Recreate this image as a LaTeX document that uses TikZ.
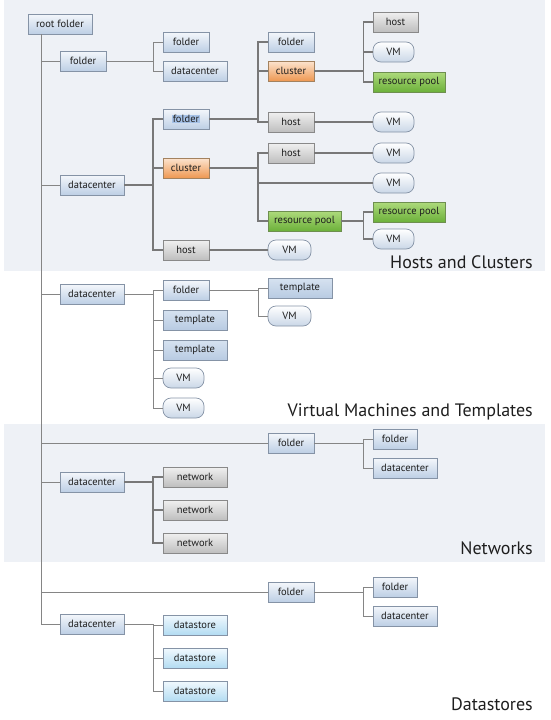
\documentclass[tikz,border=0pt]{standalone}
\usepackage{fontspec}
\setmainfont{PT Sans}
\definecolor{panel}{HTML}{EEF1F6}
\definecolor{lineg}{HTML}{858585}
\definecolor{bluetop}{HTML}{F4F7FB}
\definecolor{bluebot}{HTML}{BDCFE5}
\definecolor{blueedge}{HTML}{8593A6}
\definecolor{tpltop}{HTML}{D6E2F0}
\definecolor{tplbot}{HTML}{B8CBE2}
\definecolor{dstop}{HTML}{F1F9FE}
\definecolor{dsbot}{HTML}{B3DCF2}
\definecolor{greytop}{HTML}{F0F0F0}
\definecolor{greybot}{HTML}{BEBEBE}
\definecolor{greyedge}{HTML}{898989}
\definecolor{ortop}{HTML}{FCE4CF}
\definecolor{orbot}{HTML}{EE9852}
\definecolor{oredge}{HTML}{A3825F}
\definecolor{grtop}{HTML}{AEDA7C}
\definecolor{grbot}{HTML}{6CB13A}
\definecolor{gredge}{HTML}{6E8F4F}
\definecolor{vmbot}{HTML}{CAD7E7}
\definecolor{selblue}{HTML}{A6C2E7}
\definecolor{txt}{HTML}{1E1E1E}
\tikzset{
  base/.style={draw, line width=0.7pt, minimum height=20pt, inner sep=0pt,
    font=\fontsize{10.5}{12}\selectfont, text=txt},
  wd/.style={minimum width=#1},
  blu/.style={base, top color=bluetop, bottom color=bluebot, draw=blueedge},
  tpl/.style={base, top color=tpltop, bottom color=tplbot, draw=blueedge},
  dst/.style={base, top color=dstop, bottom color=dsbot, draw=blueedge},
  gry/.style={base, top color=greytop, bottom color=greybot, draw=greyedge},
  org/.style={base, top color=ortop, bottom color=orbot, draw=oredge},
  grn/.style={base, top color=grtop, bottom color=grbot, draw=gredge},
  vmn/.style={base, rounded corners=8pt, top color=white, bottom color=vmbot, draw=blueedge},
  ln/.style={draw=lineg, line width=0.8pt},
  heavy/.style={draw=lineg!90!black, line width=1.7pt},
  sect/.style={anchor=base east, font=\fontsize{18}{20}\selectfont, text=txt, inner sep=0pt}
}
\begin{document}
\begin{tikzpicture}[x=1pt,y=-1pt]
\useasboundingbox (0,0) rectangle (551,720);
\fill[panel] (4,0) rectangle (545,271);
\fill[panel] (4,424) rectangle (545,562);

\coordinate (tx) at (41.7,0);
\coordinate (b1) at (153,0);
\coordinate (b2) at (258,0);
\coordinate (b3) at (363.5,0);

% ---- nodes: hosts and clusters ----
\node[blu, wd=64pt] (root) at (60,24) {root folder};
\node[blu, wd=46pt] (f1) at (83,61) {folder};
\node[blu, wd=46pt] (f1a) at (186,42) {folder};
\node[blu, wd=64pt] (f1b) at (195,71) {datacenter};
\node[blu, wd=64pt] (dc1) at (92,185) {datacenter};
\node[blu, wd=46pt] (dcf) at (186,119) {\setlength{\fboxsep}{0.6pt}\colorbox{selblue}{folder}};
\node[org, wd=46pt] (dcc) at (186,168) {cluster};
\node[gry, wd=46pt] (dch) at (186,250) {host};
\node[blu, wd=46pt] (ff) at (291,42) {folder};
\node[org, wd=46pt] (fc) at (291,71) {cluster};
\node[gry, wd=46pt] (fh) at (291,122) {host};
\node[gry, wd=45pt] (fch) at (395.5,22) {host};
\node[vmn, wd=41pt] (fcv) at (393.5,52) {VM};
\node[grn, wd=72pt] (fcr) at (409,82) {resource pool};
\node[vmn, wd=41pt] (fhv) at (393.5,122) {VM};
\node[gry, wd=46pt] (ch) at (291,153) {host};
\node[vmn, wd=41pt] (chv) at (393.5,153) {VM};
\node[vmn, wd=41pt] (cv) at (393.5,183) {VM};
\node[grn, wd=73pt] (cr) at (304.5,221) {resource pool};
\node[grn, wd=72pt] (crr) at (409,212) {resource pool};
\node[vmn, wd=41pt] (crv) at (393.5,239) {VM};
\node[vmn, wd=43pt] (hv) at (289.5,250) {VM};
\node[sect] (lab1) at (533,268) {Hosts and Clusters};

% ---- VMs and templates ----
\node[blu, wd=64pt] (dc2) at (92,294) {datacenter};
\node[blu, wd=46pt] (vf) at (186,290) {folder};
\node[tpl, wd=64pt] (vt1) at (195,320) {template};
\node[tpl, wd=64pt] (vt2) at (195,350) {template};
\node[vmn, wd=41pt] (vv1) at (183.5,378) {VM};
\node[vmn, wd=41pt] (vv2) at (183.5,408) {VM};
\node[tpl, wd=64pt] (vft) at (300,288) {template};
\node[vmn, wd=43pt] (vfv) at (289.5,316) {VM};
\node[sect] (lab2) at (533,416) {Virtual Machines and Templates};

% ---- networks ----
\node[blu, wd=46pt] (nf) at (291,443) {folder};
\node[blu, wd=44pt] (nff) at (395,439) {folder};
\node[blu, wd=64pt] (nfd) at (405,468) {datacenter};
\node[blu, wd=64pt] (dc3) at (92,482) {datacenter};
\node[gry, wd=64pt] (n1) at (195,477) {network};
\node[gry, wd=64pt] (n2) at (195,510) {network};
\node[gry, wd=64pt] (n3) at (195,543) {network};
\node[sect] (lab3) at (533,554) {Networks};

% ---- datastores ----
\node[blu, wd=46pt] (sf) at (291,592) {folder};
\node[blu, wd=44pt] (sff) at (395,587) {folder};
\node[blu, wd=64pt] (sfd) at (405,616) {datacenter};
\node[blu, wd=64pt] (dc4) at (92,624) {datacenter};
\node[dst, wd=64pt] (d1) at (195,625) {datastore};
\node[dst, wd=64pt] (d2) at (195,658) {datastore};
\node[dst, wd=64pt] (d3) at (195,691) {datastore};
\node[sect] (lab4) at (533,710) {Datastores};

% ---- connectors ----
\draw[ln] (root.south -| tx) |- (dc4.west);
\foreach \c in {f1,dc1,dc2,nf,dc3,sf} \draw[ln] (tx |- \c.west) -- (\c.west);
% folder subtree
\foreach \c in {f1a,f1b} \draw[ln] (f1.east) -- (f1.east -| b1) |- (\c.west);
% datacenter subtree (heavy)
\foreach \c in {dcf,dcc,dch} \draw[heavy] (dc1.east) -- (dc1.east -| b1) |- (\c.west);
\foreach \c in {ff,fc,fh} \draw[heavy] (dcf.east) -- (dcf.east -| b2) |- (\c.west);
\foreach \c in {fch,fcv,fcr} \draw[heavy] (fc.east) -- (fc.east -| b3) |- (\c.west);
\draw[heavy] (fh.east) -- (fhv.west);
\foreach \c in {ch,cv,cr} \draw[heavy] (dcc.east) -- (dcc.east -| b2) |- (\c.west);
\draw[heavy] (ch.east) -- (chv.west);
\foreach \c in {crr,crv} \draw[heavy] (cr.east) -- (cr.east -| b3) |- (\c.west);
\draw[heavy] (dch.east) -- (hv.west);
% VMs
\foreach \c in {vf,vt1,vt2,vv1,vv2} \draw[ln] (dc2.east) -- (dc2.east -| b1) |- (\c.west);
\foreach \c in {vft,vfv} \draw[ln] (vf.east) -- (vf.east -| b2) |- (\c.west);
% networks
\foreach \c in {nff,nfd} \draw[ln] (nf.east) -- (nf.east -| b3) |- (\c.west);
\foreach \c in {n1,n2,n3} \draw[heavy] (dc3.east) -- (dc3.east -| b1) |- (\c.west);
% datastores
\foreach \c in {sff,sfd} \draw[ln] (sf.east) -- (sf.east -| b3) |- (\c.west);
\foreach \c in {d1,d2,d3} \draw[ln] (dc4.east) -- (dc4.east -| b1) |- (\c.west);
\end{tikzpicture}
\end{document}
